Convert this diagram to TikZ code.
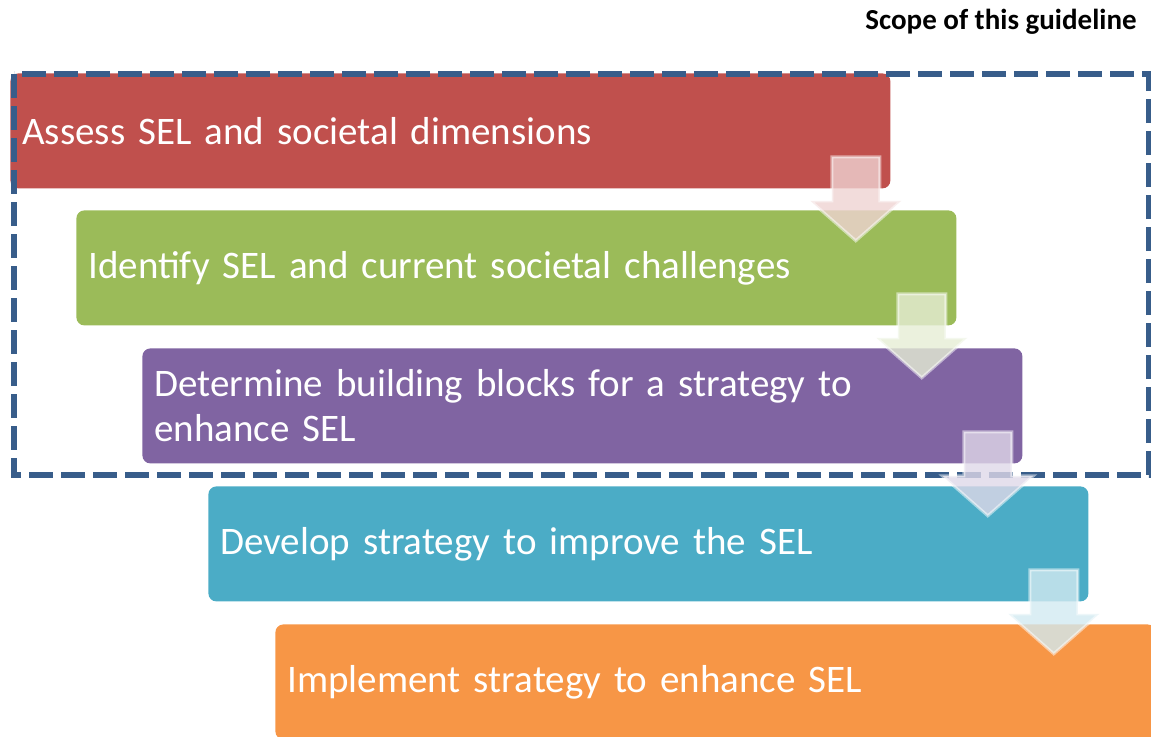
\documentclass[tikz,border=0pt]{standalone}
\usepackage{fontspec}
\setmainfont{Carlito}
\usepackage{xcolor}
\definecolor{SelRed}{HTML}{C0504D}
\definecolor{SelGreen}{HTML}{9BBB59}
\definecolor{SelPurple}{HTML}{8064A2}
\definecolor{SelBlue}{HTML}{4BACC6}
\definecolor{SelOrange}{HTML}{F79646}
\definecolor{ScopeBlue}{HTML}{385D8A}
\usepackage{tikz}
\tikzset{
  stepbox/.style={rectangle, rounded corners=4pt, anchor=north west, text=white,
    minimum width=440pt, minimum height=57.5pt, text width=428pt, inner xsep=6pt,
    align=left, font=\fontsize{19.5}{22.5}\selectfont},
  scopeline/.style={draw=ScopeBlue, line width=3pt, dash pattern=on 12pt off 4pt},
}
% down arrow with its tip at #1, tinted with #2
\newcommand*{\flowarrow}[2]{%
  \path[fill=#2!25, fill opacity=0.8, draw=white, draw opacity=0.5, line width=1.5pt, shift={(#1)}]
    (0,0) -- (-45.5,-40) -- (-24,-40) -- (-24,-84) -- (24,-84) -- (24,-40) -- (45.5,-40) -- cycle;}

\begin{document}
\begin{tikzpicture}[x=0.5pt, y=-0.5pt]
    \useasboundingbox (0,0) rectangle (1151,736);
    \node[stepbox, fill=SelRed] (assess) at (10,73) {Assess SEL and societal dimensions};
    \node[stepbox, fill=SelGreen] (identify) at (76,210) {Identify SEL and current societal challenges};
    \node[stepbox, fill=SelPurple] (determine) at (142,348) {Determine building blocks for a strategy to\\enhance SEL};
    \node[stepbox, fill=SelBlue] (develop) at (208,486) {Develop strategy to improve the SEL};
    \node[stepbox, fill=SelOrange] (implement) at (275,624) {Implement strategy to enhance SEL};
    % scope of the guideline
    \draw[scopeline] (14,74) rectangle (1149,475);
    \node[anchor=base east, inner sep=0pt, font=\fontsize{14.5}{17}\selectfont\bfseries] (scope) at (1137,29) {Scope of this guideline};
    % arrows between the steps
    \coordinate (tip1) at ([shift={(-35,52)}]assess.south east);
    \coordinate (tip2) at ([shift={(-35,52)}]identify.south east);
    \coordinate (tip3) at ([shift={(-35,52)}]determine.south east);
    \coordinate (tip4) at ([shift={(-35,52)}]develop.south east);
    \flowarrow{tip1}{SelRed}
    \flowarrow{tip2}{SelGreen}
    \flowarrow{tip3}{SelPurple}
    \flowarrow{tip4}{SelBlue}
\end{tikzpicture}
\end{document}
